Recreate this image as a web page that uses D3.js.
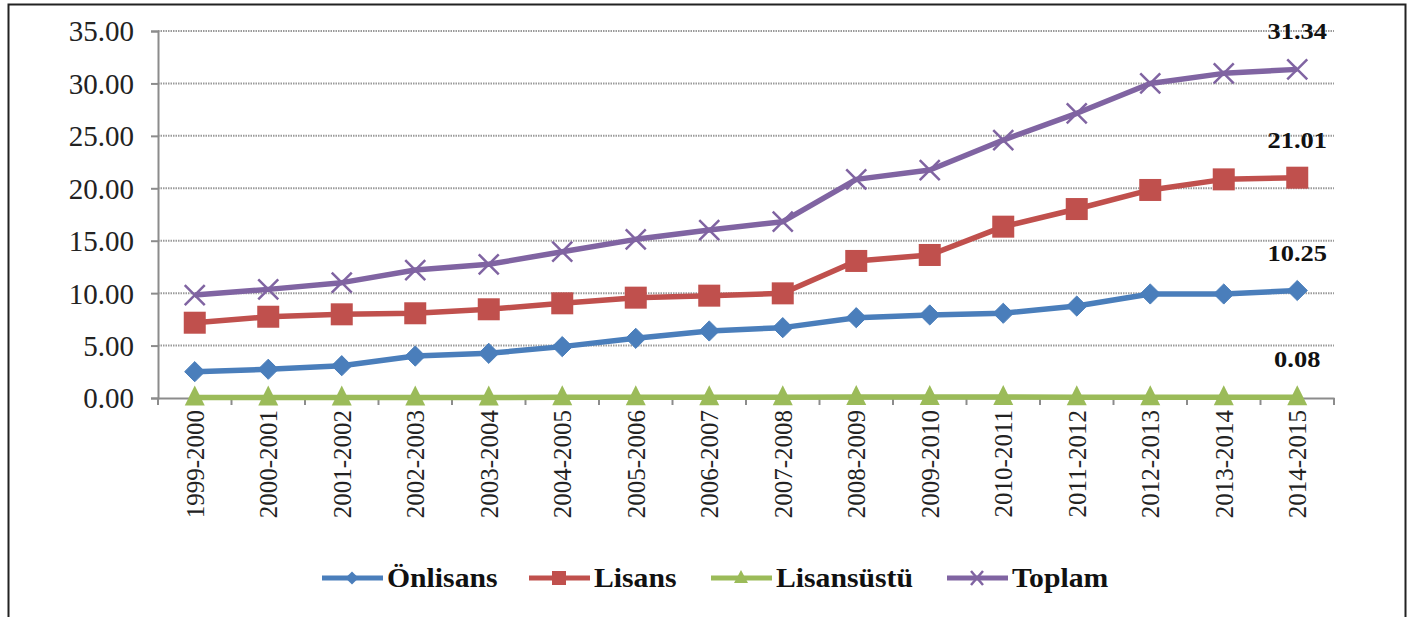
<!DOCTYPE html>
<html>
<head>
<meta charset="utf-8">
<script src="https://cdn.jsdelivr.net/npm/d3@7"></script>
<style>
  html, body { margin: 0; padding: 0; background: #fff; }
  svg { display: block; }
  svg text { font-family: "Liberation Serif", "Times New Roman", Times, "DejaVu Serif", serif; }
</style>
</head>
<body>
<svg id="chart" width="1410" height="617"></svg>
<script>
const categories = ["1999-2000","2000-2001","2001-2002","2002-2003","2003-2004","2004-2005","2005-2006","2006-2007","2007-2008","2008-2009","2009-2010","2010-2011","2011-2012","2012-2013","2013-2014","2014-2015"];
const onlisans   = [2.51, 2.74, 3.08, 4.00, 4.26, 4.90, 5.69, 6.39, 6.71, 7.66, 7.92, 8.08, 8.77, 9.92, 9.92, 10.25];
const lisans     = [7.18, 7.75, 7.98, 8.08, 8.46, 9.03, 9.57, 9.76, 9.98, 13.07, 13.64, 16.34, 18.02, 19.84, 20.85, 21.01];
const lisansustu = [0.04, 0.04, 0.05, 0.05, 0.05, 0.06, 0.06, 0.06, 0.07, 0.10, 0.10, 0.09, 0.08, 0.08, 0.08, 0.08];
const toplam     = [9.82, 10.36, 11.00, 12.20, 12.75, 13.95, 15.13, 16.02, 16.81, 20.85, 21.74, 24.60, 27.15, 30.00, 30.96, 31.34];
const yTicks     = [0, 5, 10, 15, 20, 25, 30, 35];
const seriesNames = ["Önlisans", "Lisans", "Lisansüstü", "Toplam"];

(function () {
const series = [
  { name: seriesNames[0], values: onlisans,   color: "#4A7EBB", marker: "diamond" },
  { name: seriesNames[1], values: lisans,     color: "#C0504D", marker: "square" },
  { name: seriesNames[2], values: lisansustu, color: "#9BBB59", marker: "triangle" },
  { name: seriesNames[3], values: toplam,     color: "#8064A2", marker: "x" }
];

const svg = d3.select("#chart");

// frame
svg.append("path")
  .attr("d", "M8.5,617 L8.5,4.5 L1405.5,4.5 L1405.5,617")
  .attr("fill", "none").attr("stroke", "#222").attr("stroke-width", 2);

const mLeft = 158, mRight = 1334, mTop = 31, mBottom = 398;

const x = d3.scaleBand().domain(categories).range([mLeft, mRight]);
const y = d3.scaleLinear().domain([0, 35]).range([mBottom, mTop]);

// gridlines
svg.append("g").selectAll("line").data(yTicks.filter(d => d > 0)).join("line")
  .attr("x1", mLeft).attr("x2", mRight)
  .attr("y1", d => y(d)).attr("y2", d => y(d))
  .attr("stroke", "#9a9a9a").attr("stroke-width", 2)
  .attr("stroke-dasharray", "1.5,1");

// y axis
const yAxis = d3.axisLeft(y).tickValues(yTicks).tickSize(7).tickPadding(17)
  .tickFormat(d3.format(".2f"));
const gy = svg.append("g").attr("transform", `translate(${mLeft},0)`).call(yAxis);
gy.attr("font-family", null);
gy.select(".domain").attr("stroke", "#8c8c8c").attr("stroke-width", 2);
gy.selectAll(".tick line").attr("stroke", "#8c8c8c").attr("stroke-width", 2);
gy.selectAll(".tick text").attr("font-size", 29)
  .attr("fill", "#222").attr("dy", "0.34em");

// x axis
const xAxis = d3.axisBottom(x).tickSize(0).tickPadding(0);
const gx = svg.append("g").attr("transform", `translate(0,${mBottom})`).call(xAxis);
gx.attr("font-family", null);
gx.select(".domain").attr("stroke", "#8c8c8c").attr("stroke-width", 2);
gx.selectAll(".tick text")
  .attr("font-size", 25).attr("fill", "#222")
  .attr("text-anchor", "end")
  .attr("transform", "translate(0,12) rotate(-90)")
  .attr("x", 0).attr("y", 0).attr("dy", "0.35em");
// category boundary ticks
const bounds = categories.map(c => x(c)).concat([mRight]);
gx.append("g").selectAll("line").data(bounds).join("line")
  .attr("x1", d => d).attr("x2", d => d).attr("y1", 0).attr("y2", 7)
  .attr("stroke", "#8c8c8c").attr("stroke-width", 2);

const cx = c => x(c) + x.bandwidth() / 2;

function drawMarker(g, type, color, px, py) {
  if (type === "diamond") {
    g.append("path").attr("d", d3.symbol(d3.symbolDiamond2, 260)())
      .attr("transform", `translate(${px},${py})`).attr("fill", color)
      .attr("stroke", color).attr("stroke-width", 1);
  } else if (type === "square") {
    g.append("rect").attr("x", px - 11).attr("y", py - 11).attr("width", 22).attr("height", 22)
      .attr("fill", color);
  } else if (type === "triangle") {
    g.append("path").attr("d", `M${px},${py - 12} L${px + 10},${py + 8} L${px - 10},${py + 8} Z`)
      .attr("fill", color);
  } else if (type === "x") {
    g.append("path").attr("d", `M${px - 10},${py - 10} L${px + 10},${py + 10} M${px - 10},${py + 10} L${px + 10},${py - 10}`)
      .attr("stroke", color).attr("stroke-width", 2.5).attr("fill", "none");
  }
}

const line = d3.line().x((d, i) => cx(categories[i])).y(d => y(d));

series.forEach(s => {
  const g = svg.append("g");
  g.append("path").datum(s.values).attr("d", line)
    .attr("fill", "none").attr("stroke", s.color).attr("stroke-width", 5.5)
    .attr("stroke-linejoin", "round");
  s.values.forEach((v, i) => drawMarker(g, s.marker, s.color, cx(categories[i]), y(v)));
});

// end labels
const last = categories.length - 1;
const labelData = [toplam[last], lisans[last], onlisans[last], lisansustu[last]];
svg.append("g").selectAll("text").data(labelData).join("text")
  .attr("transform", d => `translate(${cx(categories[last])},${y(d) - 38}) scale(1.15,1)`)
  .attr("text-anchor", "middle").attr("dy", "0.35em")
  .attr("font-size", 23).attr("font-weight", "bold").attr("fill", "#111")
  .text(d => d3.format(".2f")(d));

// legend
const legendX = [322, 529, 711, 947];
const lg = svg.append("g");
series.forEach((s, i) => {
  const lx = legendX[i], ly = 578;
  lg.append("line").attr("x1", lx).attr("x2", lx + 61).attr("y1", ly).attr("y2", ly)
    .attr("stroke", s.color).attr("stroke-width", 5);
  const mg = lg.append("g");
  if (s.marker === "diamond") {
    mg.append("path").attr("d", d3.symbol(d3.symbolDiamond2, 110)())
      .attr("transform", `translate(${lx + 30},${ly})`).attr("fill", s.color);
  } else if (s.marker === "square") {
    mg.append("rect").attr("x", lx + 23).attr("y", ly - 7).attr("width", 14).attr("height", 14).attr("fill", s.color);
  } else if (s.marker === "triangle") {
    mg.append("path").attr("d", `M${lx + 30},${ly - 8} L${lx + 37},${ly + 5} L${lx + 23},${ly + 5} Z`).attr("fill", s.color);
  } else {
    mg.append("path").attr("d", `M${lx + 24},${ly - 7} L${lx + 36},${ly + 7} M${lx + 24},${ly + 7} L${lx + 36},${ly - 7}`)
      .attr("stroke", s.color).attr("stroke-width", 2.5);
  }
  lg.append("text").attr("x", lx + 65).attr("y", ly).attr("dy", "0.35em")
    .attr("transform", `translate(${lx + 65},0) scale(1.1,1) translate(${-(lx + 65)},0)`)
    .attr("font-size", 27).attr("font-weight", "bold").attr("fill", "#111")
    .text(s.name);
});
})();
</script>
</body>
</html>
